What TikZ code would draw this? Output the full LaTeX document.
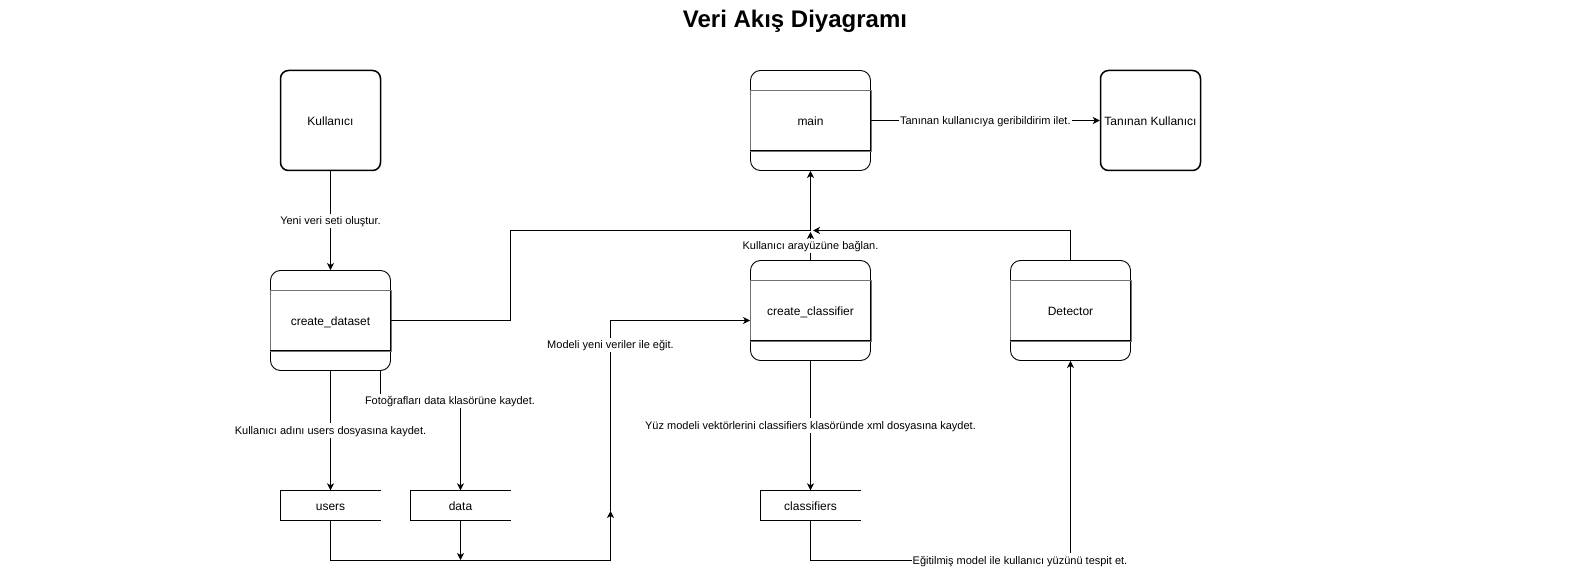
\documentclass[tikz,border=0pt]{standalone}
\usepackage{fontspec}
\setmainfont{Liberation Sans}
\usetikzlibrary{arrows.meta}
\begin{document}
\begin{tikzpicture}[x=1pt,y=-1pt,
  btxt/.style={font=\fontsize{12}{14}\selectfont,text height=13.1pt,text depth=2.54pt},
  ext/.style={draw,line width=1.5pt,rounded corners=8pt,minimum width=100pt,minimum height=100pt,inner sep=0pt,btxt},
  proc/.style={draw,line width=0.9pt,rounded corners=10pt,minimum width=120pt,minimum height=100pt,inner sep=0pt,btxt},
  store/.style={minimum width=100pt,minimum height=30pt,inner sep=0pt,btxt},
  flow/.style={line width=0.9pt,-{Stealth[length=7pt,width=7pt,inset=2pt]}},
  plain/.style={line width=0.9pt},
  lbl/.style={fill=white,inner sep=1pt,font=\fontsize{11}{13}\selectfont,text height=9.96pt,text depth=2.33pt},
]
\useasboundingbox (0,0) rectangle (1591,569);

\node[font=\bfseries\fontsize{24}{28}\selectfont,anchor=base] (title) at (795,27.5) {Veri Akış Diyagramı};

\node[ext] (kul) at (330.5,120.5) {Kullanıcı};
\node[ext] (tan) at (1150.5,120.5) {Tanınan Kullanıcı};
\node[proc] (main) at (810.5,120.5) {main};
\node[proc] (cd) at (330.5,320.5) {create\_dataset};
\node[proc] (cc) at (810.5,310.5) {create\_classifier};
\node[proc] (det) at (1070.5,310.5) {Detector};

\foreach \n in {main,cd,cc,det}{
  \draw[black!55,line width=0.8pt] ([yshift=-20pt]\n.north west) rectangle ([yshift=20pt]\n.south east);
  \draw[plain] ([yshift=20pt]\n.south west) -- ([yshift=20pt]\n.south east);
}

\node[store] (users) at (330.5,505.5) {users};
\node[store] (data) at (460.5,505.5) {data};
\node[store] (cls) at (810.5,505.5) {classifiers};
\foreach \n in {users,data,cls}{
  \draw[plain] (\n.north east) -- (\n.north west) -- (\n.south west) -- (\n.south east);
}

\coordinate (jm) at (810.5,232);
\coordinate (jd) at (813,230.5);
\coordinate (j1) at (610.5,511);
\coordinate (j2) at (460.5,560);

\draw[flow] (kul) -- node[lbl]{Yeni veri seti oluştur.} (cd);
\draw[flow] (cd.east) -| (510.5,230.5) -| (main.south);
\draw[flow] (cc.north) -- node[lbl]{Kullanıcı arayüzüne bağlan.} (jm);
\draw[flow] (det.north) |- (jd);
\draw[flow] (main) -- node[lbl]{Tanınan kullanıcıya geribildirim ilet.} (tan);
\draw[flow] (cd.south) -- node[lbl]{Kullanıcı adını users dosyasına kaydet.} (users.north);
\draw[flow] ([xshift=50pt]cd.south) |- (460.5,401) -- (data.north);
\node[lbl] (lfoto) at (450,401) {Fotoğrafları data klasörüne kaydet.};
\draw[flow] (users.south) |- (610.5,560.5) -- (j1);
\draw[flow] (data.south) -- (j2);
\draw[flow] (j1) |- ([yshift=-10pt]cc.west);
\node[lbl] (lmodel) at (610.5,345) {Modeli yeni veriler ile eğit.};
\draw[flow] (cc) -- node[lbl]{Yüz modeli vektörlerini classifiers klasöründe xml dosyasına kaydet.} (cls);
\draw[flow] (cls.south) |- (1070.5,560.5) -- (det.south);
\node[lbl] (legit) at (1020,560.5) {Eğitilmiş model ile kullanıcı yüzünü tespit et.};
\end{tikzpicture}
\end{document}
